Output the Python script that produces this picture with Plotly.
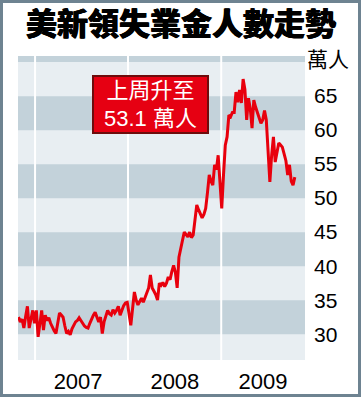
import plotly.graph_objects as go
import pandas as pd

# Weekly initial jobless claims (萬人), week ending Saturdays from 2006-10-28 to 2009-10-17
claims = [
    32.5, 31.8, 32.2, 30.9, 32.6, 34.1, 30.9, 32.0, 33.5,
    31.6, 33.5, 29.6, 31.5, 33.5, 30.6, 32.8, 32.0, 32.4, 31.6,
    31.0, 30.5, 30.1, 31.8, 33.1, 32.8, 32.5, 31.2, 30.1, 30.4,
    29.9, 30.8, 31.3, 31.8, 32.0, 32.4, 32.0, 31.6, 31.2, 31.0,
    30.9, 31.6, 32.3, 32.8, 33.2, 32.4, 31.8, 32.5, 30.1, 31.8,
    32.6, 33.5, 33.0, 32.8, 33.6, 33.1, 33.5, 34.1, 32.8, 33.6,
    34.2, 34.6, 34.7, 33.0, 31.3, 33.8, 36.2, 35.0, 34.3, 34.8,
    35.3, 34.7, 35.5, 36.0, 36.8, 38.7, 36.8, 36.3, 35.8, 35.0,
    37.5, 37.2, 37.6, 37.0, 37.5, 38.4, 38.0, 39.2, 40.1, 39.1,
    36.8, 41.3, 42.8, 43.8, 45.0, 44.6, 44.3, 45.0, 44.2, 44.6,
    47.0, 49.0, 48.3, 47.8, 47.1, 47.6, 48.5, 50.8, 53.4, 52.5,
    51.9, 54.9, 54.2, 56.3, 53.0, 48.5, 53.4, 57.8, 59.0, 62.2,
    62.0, 62.6, 62.6, 65.6, 64.1, 65.9, 64.0, 67.5, 66.0, 61.5,
    64.7, 63.2, 60.3, 64.4, 63.4, 62.5, 61.9, 61.0, 61.5, 62.9,
    61.5, 57.0, 52.4, 56.3, 59.0, 55.3, 56.5, 58.1, 57.8, 57.5,
    56.5, 55.5, 53.4, 54.9, 52.5, 51.9, 53.1,
]
start_week = "2006-10-28"

y_ticks = [30, 35, 40, 45, 50, 55, 60, 65]
year_labels = ["2007", "2008", "2009"]
year_label_pos = ["2007-06-19", "2008-07-03", "2009-06-14"]
year_starts = ["2007-01-01", "2008-01-01", "2009-01-01"]
band_low = [30, 40, 50, 60, 70]
band_high = [35, 45, 55, 65, 75]

title_text = "美新領失業金人數走勢"
unit_text = "萬人"
note_text = "上周升至<br>53.1 萬人"

y_range = [26.2, 70.9]
x_range = ["2006-10-26", "2009-11-26"]

dates = pd.date_range(start_week, periods=len(claims), freq="7D")

LATIN = "Liberation Sans, Arial, Noto Sans CJK TC, sans-serif"
CJK = "Noto Sans CJK TC, sans-serif"

fig = go.Figure()
fig.add_trace(go.Scatter(
    x=dates, y=claims, mode="lines",
    line=dict(color="#e8000d", width=3),
    hoverinfo="skip", showlegend=False,
))

shapes = []
for lo, hi in zip(band_low, band_high):
    shapes.append(dict(type="rect", xref="paper", yref="y", x0=0, x1=1,
                       y0=lo, y1=min(hi, y_range[1]),
                       fillcolor="#c3d2da", line=dict(width=0), layer="below"))
for ys in year_starts:
    shapes.append(dict(type="line", xref="x", yref="paper", x0=ys, x1=ys,
                       y0=0, y1=1, line=dict(color="white", width=2), layer="below"))

# outer frame of the graphic
L, R, T, B = 18, 305, 56, 360
W, H = R - L, B - T
def px(xp):
    return (xp - L) / W
def py(yp):
    return (B - yp) / H
shapes.append(dict(type="rect", xref="paper", yref="paper",
                   x0=px(1.5), x1=px(359.5), y0=py(395.5), y1=py(1.5),
                   line=dict(color="#6e8391", width=3), fillcolor="rgba(0,0,0,0)",
                   layer="above"))

annotations = [
    dict(text=title_text, xref="paper", yref="paper", x=px(181), y=py(22),
         showarrow=False, xanchor="center", yanchor="middle",
         font=dict(family=CJK, size=31, color="black", weight=900,
                   shadow="0.5px 0 0 #000, -0.5px 0 0 #000")),
    dict(text=unit_text, xref="paper", yref="paper", x=px(328), y=py(58),
         showarrow=False, xanchor="center", yanchor="middle",
         font=dict(family=CJK, size=21, color="black")),
    dict(text=note_text, xref="paper", yref="paper", x=px(150.5), y=py(104.5),
         showarrow=False, xanchor="center", yanchor="middle", align="center",
         font=dict(family=LATIN, size=22, color="white"),
         bgcolor="#e60012", bordercolor="#6e0c0c", borderwidth=2, borderpad=0,
         width=113, height=55),
]

fig.update_layout(
    width=361, height=397,
    margin=dict(l=L, r=361 - R, t=T, b=397 - B, pad=0, autoexpand=False),
    paper_bgcolor="white", plot_bgcolor="#e8eef2",
    shapes=shapes, annotations=annotations,
    showlegend=False,
    xaxis=dict(type="date", range=x_range, showgrid=False, zeroline=False,
               showline=False, ticks="", tickvals=year_label_pos, ticktext=year_labels,
               tickfont=dict(family=LATIN, size=22, color="black"),
               ticklabelstandoff=6, automargin=False, fixedrange=True),
    yaxis=dict(side="right", range=y_range, showgrid=False, zeroline=False,
               showline=False, ticks="", tickvals=y_ticks,
               tickfont=dict(family=LATIN, size=21, color="black"),
               ticklabelstandoff=8, automargin=False, fixedrange=True),
)

fig.write_html("out.html", config={"displayModeBar": False},
               post_script="document.body.style.margin='0';document.body.style.padding='0';document.body.style.overflow='hidden';")
